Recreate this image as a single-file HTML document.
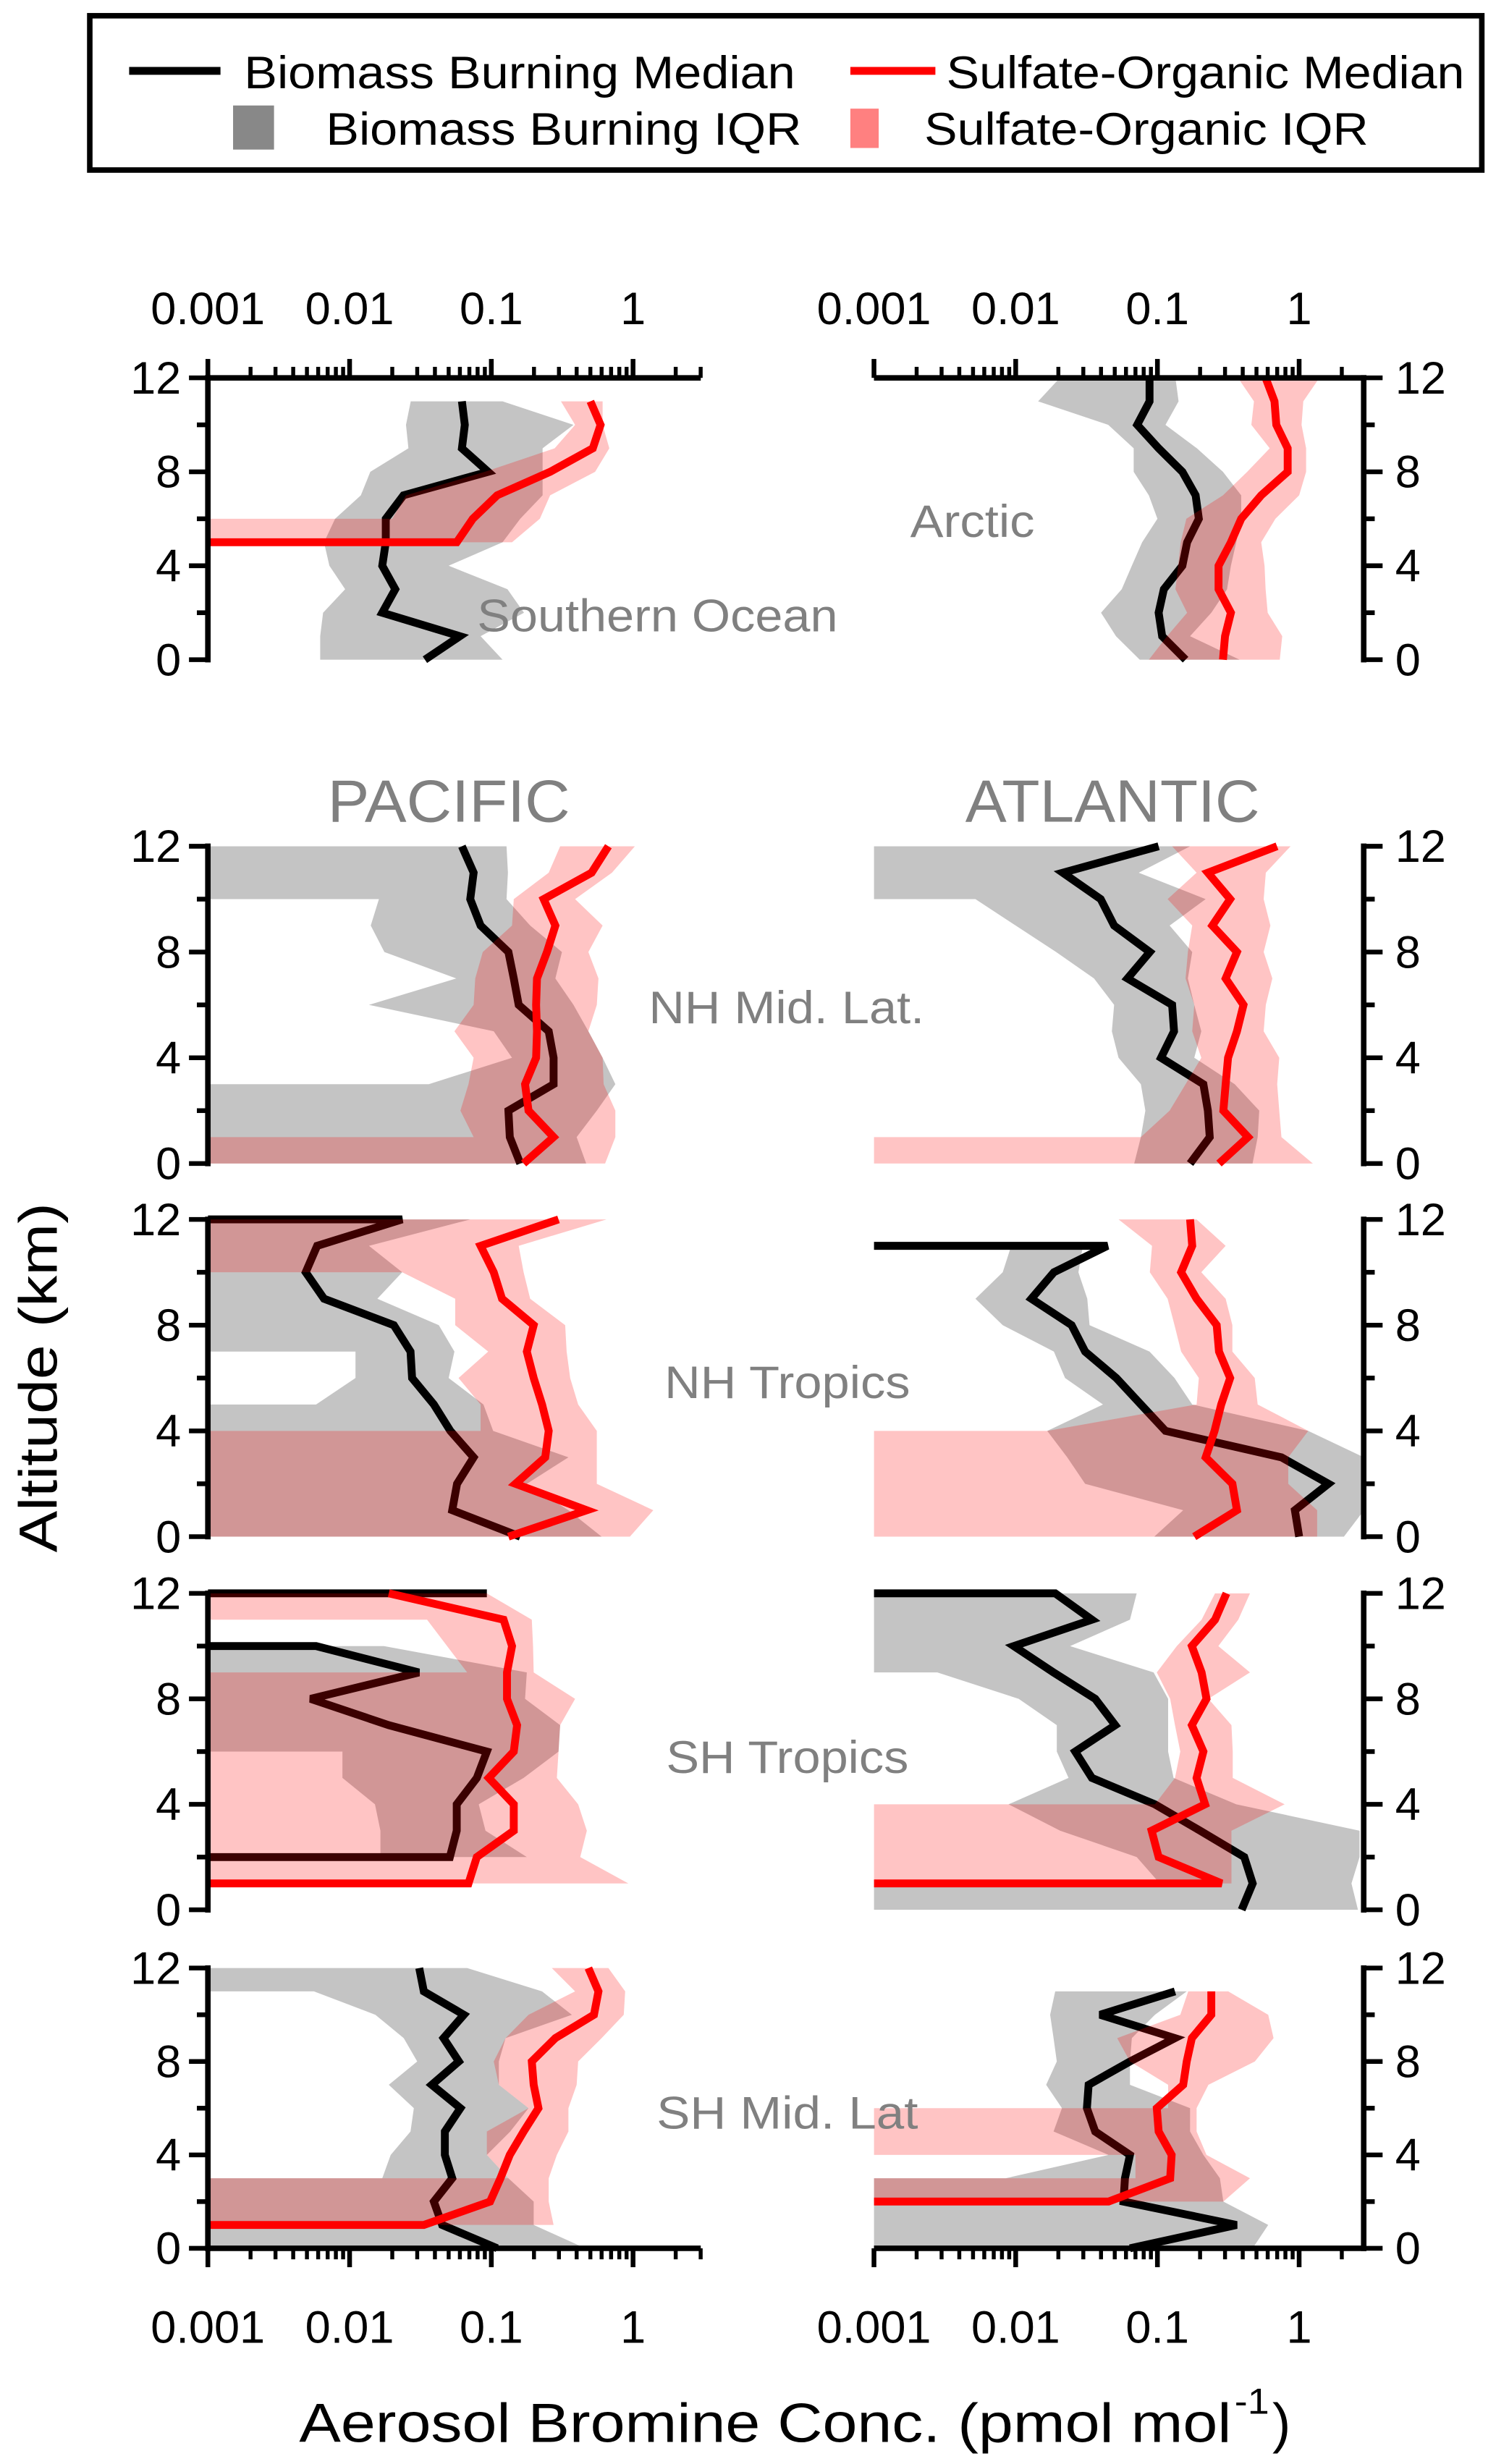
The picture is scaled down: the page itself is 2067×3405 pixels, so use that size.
<!DOCTYPE html>
<html><head><meta charset="utf-8"><title>Aerosol Bromine Profiles</title>
<style>
html,body{margin:0;padding:0;background:#fff;}
svg{display:block;}
text{font-family:"Liberation Sans",Arial,sans-serif;}
</style></head>
<body>
<svg id="chart" xmlns="http://www.w3.org/2000/svg" width="2067" height="3405" viewBox="0 0 950 1565">
  <rect x="0" y="0" width="950" height="1565" fill="#fff"/>
  <g>
    <rect x="57" y="10" width="884" height="98" fill="none" stroke="#000" stroke-width="3.5"/>
    <line x1="82" y1="45" x2="140" y2="45" stroke="#000" stroke-width="5"/>
    <text x="155" y="56" font-size="29" textLength="350" lengthAdjust="spacingAndGlyphs">Biomass Burning Median</text>
    <line x1="540" y1="45" x2="594" y2="45" stroke="#f00" stroke-width="5"/>
    <text x="601" y="56" font-size="29" textLength="329" lengthAdjust="spacingAndGlyphs">Sulfate-Organic Median</text>
    <rect x="148" y="67" width="26" height="28" fill="#888"/>
    <text x="207" y="92" font-size="29" textLength="302" lengthAdjust="spacingAndGlyphs">Biomass Burning IQR</text>
    <rect x="540" y="69" width="18" height="25" fill="#ff8080"/>
    <text x="587" y="92" font-size="29" textLength="282" lengthAdjust="spacingAndGlyphs">Sulfate-Organic IQR</text>
  </g>
  <g id="plots"></g>
  <g fill="#808080">
    <text x="303" y="401" font-size="29" textLength="229" lengthAdjust="spacingAndGlyphs">Southern Ocean</text>
    <text x="578" y="341" font-size="29" textLength="79" lengthAdjust="spacingAndGlyphs">Arctic</text>
    <text x="208" y="522" font-size="38" textLength="154" lengthAdjust="spacingAndGlyphs">PACIFIC</text>
    <text x="613" y="522" font-size="38" textLength="187" lengthAdjust="spacingAndGlyphs">ATLANTIC</text>
    <text x="412" y="650" font-size="29" textLength="175" lengthAdjust="spacingAndGlyphs">NH Mid. Lat.</text>
    <text x="422" y="888" font-size="29" textLength="156" lengthAdjust="spacingAndGlyphs">NH Tropics</text>
    <text x="423" y="1126" font-size="29" textLength="154" lengthAdjust="spacingAndGlyphs">SH Tropics</text>
    <text x="417" y="1352" font-size="29" textLength="166" lengthAdjust="spacingAndGlyphs">SH Mid. Lat</text>
  </g>
  <text transform="translate(36,875) rotate(-90)" text-anchor="middle" font-size="34" textLength="222" lengthAdjust="spacingAndGlyphs">Altitude (km)</text>
  <g>
    <text x="190" y="1551" font-size="35" textLength="592" lengthAdjust="spacingAndGlyphs">Aerosol Bromine Conc. (pmol mol</text>
    <text x="784" y="1533" font-size="23" textLength="22" lengthAdjust="spacingAndGlyphs">-1</text>
    <text x="808" y="1551" font-size="35">)</text>
  </g>
</svg>
<script>
// ---------- data: [altitude km, concentration pmol/mol]; null = line break ----------
const soBlack=[[11,.062],[10,.065],[9,.062],[8,.095],[7,.024],[6,.018],[5,.018],[4,.017],[3,.021],[2,.017],[1,.06],[0,.034]];
const soGrayLo=[[11,.027],[10,.025],[9,.026],[8,.014],[7,.012],[6,.0079],[5,.0066],[4,.0072],[3,.0093],[2,.0065],[1,.0062],[0,.0062]];
const soGrayHi=[[11,.12],[10,.38],[9,.23],[8,.23],[7,.23],[6,.16],[5,.12],[4,.05],[3,.13],[2,.17],[1,.084],[0,.12]];
const soPinkLo=[[11,.31],[10,.39],[9,.28],[8,.09],[7,.025],[6,.02],[6,.001],[5,.001]];
const soPinkHi=[[11,.61],[10,.61],[9,.68],[8,.54],[7,.26],[6,.22],[5,.14]];
const soRed=[[11,.5],[10,.59],[9,.52],[8,.26],[7,.11],[6,.074],[5,.057],[5,.001]];

const arBlack=[[12,.088],[11,.088],[10,.072],[9,.102],[8,.15],[7,.186],[6,.196],[5,.162],[4,.15],[3,.111],[2,.102],[1,.108],[0,.158]];
const arGrayLo=[[12,.0205],[11,.0144],[10,.045],[9,.068],[8,.068],[7,.087],[6,.1],[5,.078],[4,.066],[3,.056],[2,.04],[1,.051],[0,.075]];
const arGrayHi=[[12,.134],[11,.141],[10,.114],[9,.19],[8,.29],[7,.39],[6,.39],[5,.36],[4,.33],[3,.31],[2,.24],[1,.17],[0,.38]];
const arPinkLo=[[12,.37],[11,.48],[10,.46],[9,.62],[8,.43],[7,.29],[6,.16],[5,.146],[4,.14],[3,.134],[2,.162],[1,.117],[0,.087]];
const arPinkHi=[[12,1.39],[11,1.07],[10,1.04],[9,1.12],[8,1.12],[7,1.0],[6,.68],[5,.54],[4,.57],[3,.58],[2,.6],[1,.76],[0,.73]];
const arRed=[[12,.58],[11,.67],[10,.69],[9,.83],[8,.83],[7,.54],[6,.39],[5,.33],[4,.27],[3,.27],[2,.33],[1,.3],[0,.29]];

const pnmBlack=[[12,.062],[11,.075],[10,.071],[9,.084],[8,.132],[7,.144],[6,.156],[5,.254],[4,.275],[3,.275],[2,.132],[1,.135],[0,.16]];
const pnmGrayLo=[[12,.001],[10,.001],[10,.0161],[9,.0141],[8,.0176],[7,.0566],[6,.0137],[5,.104],[4,.14],[3,.0362],[3,.001],[0,.001]];
const pnmGrayHi=[[12,.128],[11,.131],[10,.128],[9,.188],[8,.315],[7,.283],[6,.38],[5,.484],[4,.61],[3,.75],[2,.555],[1,.40],[0,.467]];
const pnmPinkLo=[[12,.306],[11,.254],[10,.144],[9,.14],[8,.087],[7,.077],[6,.075],[5,.0549],[4,.075],[3,.069],[2,.0605],[1,.075],[1,.001],[0,.001]];
const pnmPinkHi=[[12,1.03],[11,.71],[10,.39],[9,.61],[8,.484],[7,.57],[6,.555],[5,.484],[4,.61],[3,.62],[2,.75],[1,.75],[0,.635]];
const pnmRed=[[12,.67],[11,.51],[10,.234],[9,.283],[8,.247],[7,.21],[6,.207],[5,.21],[4,.207],[3,.173],[2,.183],[1,.275],[0,.169]];

const pntBlack=[[12,.001],[12,.0235],[11,.0059],[10,.0049],[9,.0066],[8,.0205],[7,.0269],[6,.0276],[5,.0393],[4,.0514],[3,.075],[2,.0573],[1,.053],[0,.16]];
const pntGrayLo=[[12,.001],[7,.001],[7,.011],[6,.011],[5,.0058],[5,.001],[0,.001]];
const pntGrayHi=[[12,.071],[11,.0137],[10,.0235],[9,.0157],[8,.0426],[7,.0549],[6,.05],[5,.088],[4,.103],[3,.35],[2,.178],[1,.35],[0,.60]];
const pntPinkLo=[[12,.001],[10,.001],[10,.0235],[9,.0556],[8,.0556],[7,.095],[6,.0587],[5,.084],[4,.084],[4,.001],[0,.001]];
const pntPinkHi=[[12,.65],[11,.156],[10,.169],[9,.188],[8,.332],[7,.34],[6,.36],[5,.41],[4,.555],[3,.555],[2,.555],[1,1.39],[0,.95]];
const pntRed=[[12,.298],[11,.084],[10,.104],[9,.119],[8,.199],[7,.178],[6,.199],[5,.228],[4,.254],[3,.24],[2,.148],[1,.472],[0,.132]];

const pstBlack=[[12,.001],[12,.093],null,[10,.001],[10,.0058],[9,.0308],[8,.0053],[7,.0189],[6,.093],[5,.079],[4,.057],[3,.057],[2,.051],[2,.001]];
const pstGrayLo=[[10,.001],[6,.001],[6,.0089],[5,.0089],[4,.0151],[3,.0165],[2,.0165]];
const pstGrayHi=[[10,.0175],[9,.178],[8,.173],[7,.306],[6,.298],[5,.169],[4,.0815],[3,.091],[2,.178]];
const pstPinkLo=[[12,.001],[11,.001],[11,.0352],[9,.0675],[9,.001],[1,.001]];
const pstPinkHi=[[12,.093],[11,.193],[10,.197],[9,.199],[8,.39],[7,.306],[6,.298],[5,.29],[4,.41],[3,.472],[2,.424],[1,.927]];
const pstRed=[[12,.0189],[11,.122],[10,.14],[9,.129],[8,.129],[7,.152],[6,.144],[5,.096],[4,.144],[3,.144],[2,.079],[1,.069],[1,.001]];

const psmBlack=[[12,.031],[11,.0334],[10,.064],[9,.046],[8,.059],[7,.038],[6,.0605],[5,.047],[4,.047],[3,.053],[2,.0393],[1,.045],[0,.11]];
const psmGrayLo=[[12,.001],[11,.001],[11,.0056],[10,.0152],[9,.0241],[8,.03],[7,.0189],[6,.0284],[5,.0269],[4,.0195],[3,.017],[3,.001],[0,.001]];
const psmGrayHi=[[12,.0675],[11,.228],[10,.37],[9,.126],[8,.113],[7,.113],[6,.183],[5,.136],[4,.093],[3,.132],[2,.199],[1,.199],[0,.46]];
const psmPinkLo=[[12,.267],[11,.39],[10,.183],[9,.126],[8,.104],[7,.113],[6,.183],[5,.093],[4,.093],[3,.132],[3,.001],[1,.001]];
const psmPinkHi=[[12,.67],[11,.88],[10,.86],[9,.60],[8,.41],[7,.40],[6,.35],[5,.35],[4,.29],[3,.254],[2,.254],[1,.275]];
const psmRed=[[12,.484],[11,.57],[10,.53],[9,.283],[8,.193],[7,.199],[6,.215],[5,.169],[4,.135],[3,.116],[2,.098],[1,.0334],[1,.001]];

const anmBlack=[[12,.102],[11,.0215],[10,.0398],[9,.0495],[8,.0884],[7,.0615],[6,.127],[5,.131],[4,.106],[3,.211],[2,.227],[1,.234],[0,.17]];
const anmGrayLo=[[12,.001],[10,.001],[10,.0052],[9,.01],[8,.0193],[7,.0357],[6,.0495],[5,.0477],[4,.0532],[3,.0764],[2,.0822],[1,.0764],[0,.0686]];
const anmGrayHi=[[12,.17],[11,.0738],[10,.219],[9,.122],[8,.176],[7,.164],[6,.182],[5,.204],[4,.182],[3,.351],[2,.523],[1,.51],[0,.469]];
const anmPinkLo=[[12,.127],[11,.189],[10,.118],[9,.176],[8,.164],[7,.158],[6,.182],[5,.176],[4,.204],[3,.158],[2,.122],[1,.0764],[1,.001],[0,.001]];
const anmPinkHi=[[12,.87],[11,.582],[10,.562],[9,.627],[8,.562],[7,.647],[6,.582],[5,.562],[4,.724],[3,.70],[2,.724],[1,.75],[0,1.25]];
const anmRed=[[12,.698],[11,.227],[10,.326],[9,.244],[8,.364],[7,.303],[6,.405],[5,.364],[4,.315],[3,.303],[2,.292],[1,.436],[0,.272]];

const antBlack=[[11,.001],[11,.0444],[10,.0186],[9,.0129],[8,.0248],[7,.0309],[6,.0513],[5,.0764],[4,.114],[3,.75],[2,1.61],[1,.933],[0,1.0]];
const antGrayLo=[[11,.0093],[10,.0081],[9,.0052],[8,.0081],[7,.0186],[6,.0223],[5,.0413],[4,.0167],[3,.0231],[2,.0309],[1,.152],[0,.095]];
const antGrayHi=[[11,.0298],[10,.0277],[9,.032],[8,.0332],[7,.088],[6,.132],[5,.176],[4,1.16],[3,2.87],[2,2.87],[1,2.87],[0,2.07]];
const antPinkLo=[[12,.0532],[11,.0916],[10,.0884],[9,.118],[8,.132],[7,.147],[6,.196],[5,.189],[4,.0167],[4,.001],[0,.001]];
const antPinkHi=[[12,.189],[11,.303],[10,.204],[9,.303],[8,.338],[7,.338],[6,.486],[5,.51],[4,1.16],[3,.838],[2,.838],[1,1.34],[0,1.34]];
const antRed=[[12,.17],[11,.176],[10,.147],[9,.189],[8,.262],[7,.272],[6,.326],[5,.282],[4,.253],[3,.219],[2,.338],[1,.364],[0,.182]];

const astBlack=[[12,.001],[12,.019],[11,.0345],[10,.0097],[9,.0185],[8,.0364],[7,.0504],[6,.0263],[5,.0345],[4,.096],[3,.20],[2,.41],[1,.47],[0,.393]];
const astGrayLo=[[12,.001],[9,.001],[9,.0028],[8,.0105],[7,.0195],[6,.0195],[5,.0236],[4,.0089],[3,.0206],[2,.0714],[1,.104],[1,.001],[0,.001]];
const astGrayHi=[[12,.0714],[11,.064],[10,.0242],[9,.094],[8,.119],[7,.119],[6,.119],[5,.13],[4,.36],[3,2.67],[2,2.67],[1,2.34],[0,2.6]];
const astPinkLo=[[12,.255],[11,.205],[10,.137],[9,.099],[8,.123],[7,.133],[6,.145],[5,.133],[4,.096],[4,.001],[1,.001]];
const astPinkHi=[[12,.45],[11,.372],[10,.269],[9,.45],[8,.229],[7,.333],[6,.34],[5,.34],[4,.79],[3,.333],[2,.333],[1,.333]];
const astRed=[[12,.307],[11,.255],[10,.175],[9,.205],[8,.222],[7,.175],[6,.211],[5,.189],[4,.217],[3,.091],[2,.102],[1,.284],[1,.001]];

const asmBlack=[[11,.133],[10,.0394],[9,.133],[8,.064],[7,.0327],[6,.0318],[5,.0364],[4,.064],[3,.059],[2,.0576],[1,.362],[0,.064]];
const asmGrayLo=[[11,.019],[10,.0175],[9,.0185],[8,.0195],[7,.0164],[6,.0212],[5,.0185],[4,.0452],[3,.0085],[3,.001],[0,.001]];
const asmGrayHi=[[11,.161],[10,.096],[9,.066],[8,.064],[7,.064],[6,.17],[5,.17],[4,.211],[3,.276],[2,.292],[1,.605],[0,.47]];
const asmPinkLo=[[11,.165],[10,.145],[9,.052],[8,.064],[7,.119],[6,.119],[6,.001],[4,.001],[4,.07],[3,.07],[3,.001],[2,.001]];
const asmPinkHi=[[11,.316],[10,.605],[9,.66],[8,.487],[7,.229],[6,.189],[5,.189],[4,.222],[3,.45],[2,.292]];
const asmRed=[[11,.24],[10,.24],[9,.175],[8,.161],[7,.152],[6,.099],[5,.102],[4,.126],[3,.123],[2,.0452],[2,.001]];

const xTickValues=[0.001,0.01,0.1,1];
const xTickLabels=["0.001","0.01","0.1","1"];
const yTickValues=[0,2,4,6,8,10,12];
const yTickLabels=["0","","4","","8","","12"];

// ---------- layout ----------
const NS="http://www.w3.org/2000/svg";
const X0=[132,555];
const DEC=90;
const XEND=[445,866];
const YAX=[132,866];
function xs(v,side){return X0[side]+DEC*(Math.log10(v)+3);}
function ys(a,p){return p.y0-(p.y0-p.y12)*a/12;}
function mk(tag,attrs,parent){const e=document.createElementNS(NS,tag);for(const k in attrs)e.setAttribute(k,attrs[k]);parent.appendChild(e);return e;}

const panels=[
 {id:'southern-ocean',side:0,y12:240,y0:419,top:true,bk:soBlack,gl:soGrayLo,gh:soGrayHi,pl:soPinkLo,ph:soPinkHi,rd:soRed},
 {id:'arctic',side:1,y12:240,y0:419,top:true,bk:arBlack,gl:arGrayLo,gh:arGrayHi,pl:arPinkLo,ph:arPinkHi,rd:arRed},
 {id:'pacific-nh-mid-lat',side:0,y12:537.5,y0:739,bk:pnmBlack,gl:pnmGrayLo,gh:pnmGrayHi,pl:pnmPinkLo,ph:pnmPinkHi,rd:pnmRed},
 {id:'atlantic-nh-mid-lat',side:1,y12:537.5,y0:739,bk:anmBlack,gl:anmGrayLo,gh:anmGrayHi,pl:anmPinkLo,ph:anmPinkHi,rd:anmRed},
 {id:'pacific-nh-tropics',side:0,y12:774.5,y0:976,bk:pntBlack,gl:pntGrayLo,gh:pntGrayHi,pl:pntPinkLo,ph:pntPinkHi,rd:pntRed},
 {id:'atlantic-nh-tropics',side:1,y12:774.5,y0:976,bk:antBlack,gl:antGrayLo,gh:antGrayHi,pl:antPinkLo,ph:antPinkHi,rd:antRed},
 {id:'pacific-sh-tropics',side:0,y12:1012,y0:1213,bk:pstBlack,gl:pstGrayLo,gh:pstGrayHi,pl:pstPinkLo,ph:pstPinkHi,rd:pstRed},
 {id:'atlantic-sh-tropics',side:1,y12:1012,y0:1213,bk:astBlack,gl:astGrayLo,gh:astGrayHi,pl:astPinkLo,ph:astPinkHi,rd:astRed},
 {id:'pacific-sh-mid-lat',side:0,y12:1250,y0:1428,bottom:true,bk:psmBlack,gl:psmGrayLo,gh:psmGrayHi,pl:psmPinkLo,ph:psmPinkHi,rd:psmRed},
 {id:'atlantic-sh-mid-lat',side:1,y12:1250,y0:1428,bottom:true,bk:asmBlack,gl:asmGrayLo,gh:asmGrayHi,pl:asmPinkLo,ph:asmPinkHi,rd:asmRed}
];

const root=document.getElementById('plots');
const defs=mk('defs',{},root);

function bandPts(lo,hi,p){
  const pts=[];
  lo.forEach(d=>pts.push(xs(d[1],p.side).toFixed(2)+','+ys(d[0],p).toFixed(2)));
  hi.slice().reverse().forEach(d=>pts.push(xs(d[1],p.side).toFixed(2)+','+ys(d[0],p).toFixed(2)));
  return pts.join(' ');
}
function linePaths(arr,p){
  let d='',start=true;
  arr.forEach(pt=>{
    if(pt===null){start=true;return;}
    d+=(start?'M':'L')+xs(pt[1],p.side).toFixed(2)+','+ys(pt[0],p).toFixed(2)+' ';
    start=false;
  });
  return d;
}

panels.forEach((p,i)=>{
  const cp=mk('clipPath',{id:'clip'+i},defs);
  mk('rect',{x:X0[p.side],y:p.y12-3,width:XEND[p.side]-X0[p.side],height:p.y0-p.y12+6},cp);
  const g=mk('g',{'clip-path':'url(#clip'+i+')'},root);
  
  
  const gray=mk('polygon',{points:bandPts(p.gl,p.gh,p),fill:'#808080','fill-opacity':'0.465',stroke:'none'},g);
  
  
  const bl=mk('path',{d:linePaths(p.bk,p),fill:'none',stroke:'#000','stroke-width':'5','stroke-linejoin':'miter','stroke-miterlimit':'3'},g);
  
  
  const pink=mk('polygon',{points:bandPts(p.pl,p.ph,p),fill:'#ff0000','fill-opacity':'0.23',stroke:'none'},g);
  
  
  const rl=mk('path',{d:linePaths(p.rd,p),fill:'none',stroke:'#f00','stroke-width':'5','stroke-linejoin':'miter','stroke-miterlimit':'3'},g);
  
  

  const ax=mk('g',{stroke:'#000'},root);
  
  
  const xa=YAX[p.side];
  mk('line',{x1:xa,y1:p.y12-1.75,x2:xa,y2:p.y0+1.75,'stroke-width':'3.5'},ax);
  yTickValues.forEach((v,k)=>{
    const y=ys(v,p);
    const major=yTickLabels[k]!=='';
    const len=major?12:7;
    const dir=p.side===0?-1:1;
    const t=mk('line',{x1:xa,y1:y,x2:xa+dir*len,y2:y,'stroke-width':'3'},ax);
    
    
    if(major){
      const tx=mk('text',{x:p.side===0?xa-17:xa+20,y:y+10,'font-size':'29','text-anchor':p.side===0?'end':'start',stroke:'none',fill:'#000'},ax);
      tx.textContent=yTickLabels[k];
      
      
    }
  });

  if(p.top||p.bottom){
    const yA=p.top?p.y12:p.y0;
    const dir=p.top?-1:1;
    const xg=mk('g',{stroke:'#000'},root);
    
    
    mk('line',{x1:X0[p.side]-(p.side===0?1.75:0),y1:yA,x2:XEND[p.side]+(p.side===1?1.75:0),y2:yA,'stroke-width':'3.5'},xg);
    for(let e=-3;e<=0;e++){
      for(let m=1;m<=9;m++){
        const v=m*Math.pow(10,e);
        const x=xs(v,p.side);
        if(x>XEND[p.side]+0.5)continue;
        const len=m===1?12:7;
        const t=mk('line',{x1:x,y1:yA,x2:x,y2:yA+dir*len,'stroke-width':m===1?'3':'2.5'},xg);
        
        
      }
    }
    xTickValues.forEach((v,k)=>{
      const tx=mk('text',{x:xs(v,p.side),y:p.top?206:1488,'font-size':'29','text-anchor':'middle',stroke:'none',fill:'#000'},xg);
      tx.textContent=xTickLabels[k];
      
      
    });
  }
});
</script>
</body></html>
